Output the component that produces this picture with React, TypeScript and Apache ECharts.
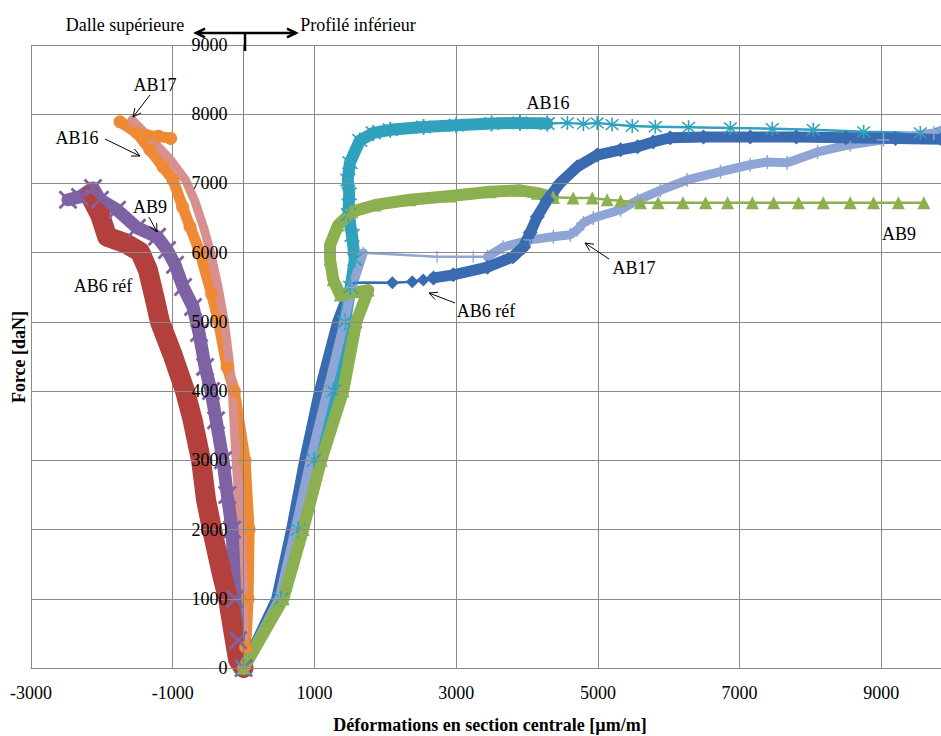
import React, { useEffect, useRef } from 'react';
import * as echarts from 'echarts';

// ---------- data (x: déformation µm/m, y: force daN) ----------
const xTickLabels = [-3000, -1000, 1000, 3000, 5000, 7000, 9000];

// Dalle supérieure (negative strains)
const ab6Dalle = [[0,0],[-78,120],[-148,550],[-219,1000],[-304,1345],[-445,2000],[-530,2430],[-600,3000],[-720,3585],[-826,4000],[-1000,4520],[-1180,5000],[-1250,5320],[-1350,5750],[-1460,6010],[-1675,6140],[-1925,6230],[-2025,6545],[-2165,6820]];
const ab9Dalle = [[0,0],[-78,400],[-120,1000],[-162,2000],[-230,2500],[-290,3000],[-388,3580],[-459,4000],[-543,4350],[-628,4840],[-713,5215],[-854,5505],[-967,5825],[-1080,6040],[-1221,6230],[-1504,6360],[-1786,6620],[-2026,6765],[-2125,6935],[-2309,6805],[-2478,6765]];
const ab16Dalle = [[0,0],[30,300],[64,1000],[78,2000],[21,3000],[-130,4000],[-233,4350],[-360,5030],[-450,5400],[-614,6000],[-755,6375],[-860,6660],[-995,7050],[-1137,7240],[-1320,7485],[-1504,7730],[-1744,7890],[-1360,7690],[-1200,7680],[-1030,7650]];
const ab17Dalle = [[0,0],[0,1000],[-35,2000],[-106,3000],[-160,4000],[-210,4500],[-275,5030],[-360,5500],[-465,6000],[-560,6350],[-690,6750],[-820,7050],[-1040,7350],[-1320,7650],[-1574,7919]];

// Profilé inférieur (positive strains)
const ab6ProfilRise = [[0,0],[460,1000],[670,2000],[855,3000],[1065,4000],[1320,5000],[1530,5560]];
const ab6ProfilSparse = [[1530,5560],[1680,5570],[2100,5565],[2380,5580],[2535,5605],[2680,5635]];
const ab6ProfilDense = [[2680,5635],[2960,5680],[3440,5790],[3800,5940],[3950,6080],[4045,6290],[4145,6520],[4285,6760],[4470,7010],[4710,7240],[4990,7410],[5320,7485],[5560,7530],[5780,7600],[6020,7660],[6490,7670],[7150,7670],[7800,7670],[8500,7660],[9200,7650],[9850,7640]];

const ab9ProfilDense = [[0,0],[560,1000],[840,2000],[1095,3000],[1405,4000],[1590,5000],[1760,5460],[1365,5390],[1265,5610],[1220,5900],[1220,6110],[1335,6400],[1530,6590],[1860,6690],[2350,6765],[2920,6820],[3480,6880],[3900,6900],[4145,6860],[4370,6800]];
const ab9ProfilSparse = [[4370,6800],[4650,6790],[4920,6790],[5130,6765],[5320,6750],[5600,6720],[5850,6720],[6200,6720],[6520,6720],[6830,6720],[7180,6720],[7480,6720],[7830,6720],[8180,6720],[8560,6720],[8890,6720],[9240,6720],[9600,6720]];

const ab16ProfilDense = [[0,0],[530,1000],[770,2000],[995,3000],[1265,4000],[1430,5000],[1510,5500],[1570,5900],[1530,6250],[1480,6550],[1490,6850],[1470,7050],[1500,7300],[1640,7620],[1830,7730],[2070,7775],[2540,7815],[3000,7840],[3500,7865],[3900,7875],[4285,7865]];
const ab16ProfilSparse = [[4285,7865],[4570,7875],[4795,7860],[4990,7875],[5200,7850],[5485,7830],[5810,7820],[6280,7810],[6870,7800],[7460,7790],[8040,7775],[8750,7745],[9550,7730],[9850,7720]];

const ab17ProfilRise = [[0,0],[500,1000],[727,2000],[940,3000],[1180,4000],[1420,5000],[1530,5500],[1690,6000]];
const ab17ProfilSparse = [[1690,6000],[2730,5940],[3240,5940],[3440,5940]];
const ab17ProfilDense = [[3440,5940],[3660,6080],[4045,6185],[4370,6230],[4610,6260],[4710,6330],[4795,6430],[4935,6500],[5320,6620],[5560,6760],[5880,6900],[6260,7050],[6730,7170],[7150,7270],[7390,7310],[7670,7300],[8100,7455],[8560,7560],[9030,7630],[9740,7730],[9850,7770]];

// ---------- styles ----------
const SERIF = "'Liberation Serif', 'Times New Roman', serif";
const C = {
  red: '#B3403C',
  purple: '#7E62A3',
  orange: '#EE8A35',
  pink: '#D8908E',
  darkBlue: '#3A6BB0',
  green: '#8CB04F',
  cyan: '#31A2BD',
  lightBlue: '#8EA5D6',
};
const ASTERISK = 'path://M9,0 L11,0 L11,20 L9,20 Z M1.5,2.9 L2.9,1.5 L18.5,17.1 L17.1,18.5 Z M17.1,1.5 L18.5,2.9 L2.9,18.5 L1.5,17.1 Z';
const CROSS = 'path://M1.5,3.3 L3.3,1.5 L18.5,16.7 L16.7,18.5 Z M16.7,1.5 L18.5,3.3 L3.3,18.5 L1.5,16.7 Z';
const PLUS = 'path://M9,0 L11,0 L11,20 L9,20 Z M0,9 L20,9 L20,11 L0,11 Z';

const X_MIN = -3000;
const X_MAX = 9870;
const GRID_LEFT = 31;
const GRID_RIGHT = -2;
const CHART_W = 941;

function line(name: string, data: number[][], color: string, width: number, symbol: string, size: any) {
  return {
    type: 'line',
    name,
    data,
    symbol,
    symbolSize: size,
    showSymbol: symbol !== 'none',
    lineStyle: { color, width, cap: 'round', join: 'round' },
    itemStyle: { color, borderWidth: 0 },
    silent: true,
    emphasis: { disabled: true },
    clip: true,
  };
}

function arrow(fx: number, fy: number, tx: number, ty: number, w = 1, len = 9) {
  const a = Math.atan2(fy - ty, fx - tx);
  const s = 0.45;
  return [
    { type: 'line', z: 100, shape: { x1: fx, y1: fy, x2: tx, y2: ty }, style: { stroke: '#000', lineWidth: w } },
    {
      type: 'polyline', z: 100,
      shape: { points: [[tx + len * Math.cos(a + s), ty + len * Math.sin(a + s)], [tx, ty], [tx + len * Math.cos(a - s), ty + len * Math.sin(a - s)]] },
      style: { stroke: '#000', lineWidth: w, fill: 'none' },
    },
  ];
}

function label(text: string, x: number, y: number, extra: any = {}) {
  return {
    type: 'text', z: 100, x, y, ...extra,
    style: { text, fontSize: 18, fontFamily: SERIF, fill: '#000', align: 'center', verticalAlign: 'middle', ...(extra.style || {}) },
  };
}

export default function App() {
  const ref = useRef<HTMLDivElement>(null);
  useEffect(() => {
    const chart = echarts.init(ref.current!, null, { renderer: 'svg' });
    // place the y axis on x = 0 (shift from the grid's left edge)
    const plotW = CHART_W - GRID_LEFT - GRID_RIGHT;
    const zeroOffset = ((0 - X_MIN) / (X_MAX - X_MIN)) * plotW;
    const option: any = {
      animation: false,
      grid: { left: GRID_LEFT, right: GRID_RIGHT, top: 45, bottom: 68, outerBoundsMode: 'none' },
      xAxis: {
        type: 'value', min: X_MIN, max: X_MAX, interval: 1000,
        axisLine: { show: true, onZero: false, lineStyle: { color: '#808080', width: 1 } },
        axisTick: { show: false },
        axisLabel: {
          fontSize: 18, fontFamily: SERIF, color: '#000', margin: 16, showMaxLabel: false,
          formatter: (v: number) => (xTickLabels.includes(v) ? String(v) : ''),
        },
        splitLine: { show: true, lineStyle: { color: ['#8a8a8a', 'rgba(0,0,0,0)'], width: 1 } },
      },
      yAxis: {
        type: 'value', min: 0, max: 9000, interval: 1000,
        position: 'left',
        offset: -zeroOffset,
        z: 10,
        axisLine: { show: true, onZero: false, lineStyle: { color: '#808080', width: 1 } },
        axisTick: { show: false },
        axisLabel: { fontSize: 18, fontFamily: SERIF, color: '#000', margin: 16, formatter: (v: number) => String(v) },
        splitLine: { show: true, lineStyle: { color: '#8a8a8a', width: 1 } },
      },
      series: [
        // Dalle supérieure
        line('AB16 dalle', ab16Dalle, C.orange, 11, 'circle', 13),
        line('AB17 dalle', ab17Dalle, C.pink, 9, 'none', 0),
        line('AB9 dalle', ab9Dalle, C.purple, 13, CROSS, 19),
        line('AB6 réf dalle', ab6Dalle, C.red, 20, 'none', 0),
        // Profilé inférieur
        line('AB6 réf profilé', ab6ProfilRise, C.darkBlue, 10, 'none', 0),
        line('AB16 profilé', ab16ProfilDense, C.cyan, 12, ASTERISK, 16),
        line('AB16 profilé marqueurs', ab16ProfilSparse, C.cyan, 2.5, ASTERISK, (v: any, p: any) => (p.dataIndex === 0 ? 0 : 14)),
        line('AB17 profilé', ab17ProfilRise, C.lightBlue, 9, PLUS, 12),
        line('AB17 profilé marqueurs', ab17ProfilSparse, C.lightBlue, 2.5, PLUS, (v: any, p: any) => (p.dataIndex === 1 || p.dataIndex === 2 ? 12 : 0)),
        line('AB17 profilé fin', ab17ProfilDense, C.lightBlue, 9, PLUS, 14),
        line('AB9 profilé', ab9ProfilDense, C.green, 12, 'triangle', 13),
        line('AB9 profilé marqueurs', ab9ProfilSparse, C.green, 2.5, 'triangle', 13),
        line('AB6 réf profilé marqueurs', ab6ProfilSparse, C.darkBlue, 2.5, 'diamond', (v: any, p: any) => (p.dataIndex < 2 ? 0 : 13)),
        line('AB6 réf profilé fin', ab6ProfilDense, C.darkBlue, 11, 'diamond', 15),
      ],
      graphic: [
        label('Dalle supérieure', 125, 25),
        label('Profilé inférieur', 358, 25),
        ...arrow(246, 33, 196, 33, 2.5, 10),
        ...arrow(246, 33, 296, 33, 2.5, 10),
        { type: 'line', z: 100, shape: { x1: 245, y1: 33, x2: 245, y2: 51 }, style: { stroke: '#000', lineWidth: 2.5 } },
        label('AB17', 155, 85),
        ...arrow(150, 95, 133, 117),
        label('AB16', 77, 138),
        ...arrow(105, 139, 140, 156),
        label('AB9', 150, 207),
        ...arrow(149, 217, 157, 232),
        label('AB6 réf', 103, 286),
        label('AB16', 548, 103),
        label('AB9', 899, 234),
        label('AB17', 634, 268),
        ...arrow(609, 259, 585, 243),
        label('AB6 réf', 486, 311),
        ...arrow(455, 303, 429, 293),
        label('Force [daN]', 19, 357, { rotation: Math.PI / 2, style: { fontWeight: 'bold' } }),
        label('Déformations en section centrale [µm/m]', 490, 725, { style: { fontWeight: 'bold' } }),
      ],
    };
    chart.setOption(option);
    return () => chart.dispose();
  }, []);
  return <div ref={ref} style={{ position: 'absolute', left: 0, top: 0, width: CHART_W, height: 736, background: '#fff' }} />;
}
